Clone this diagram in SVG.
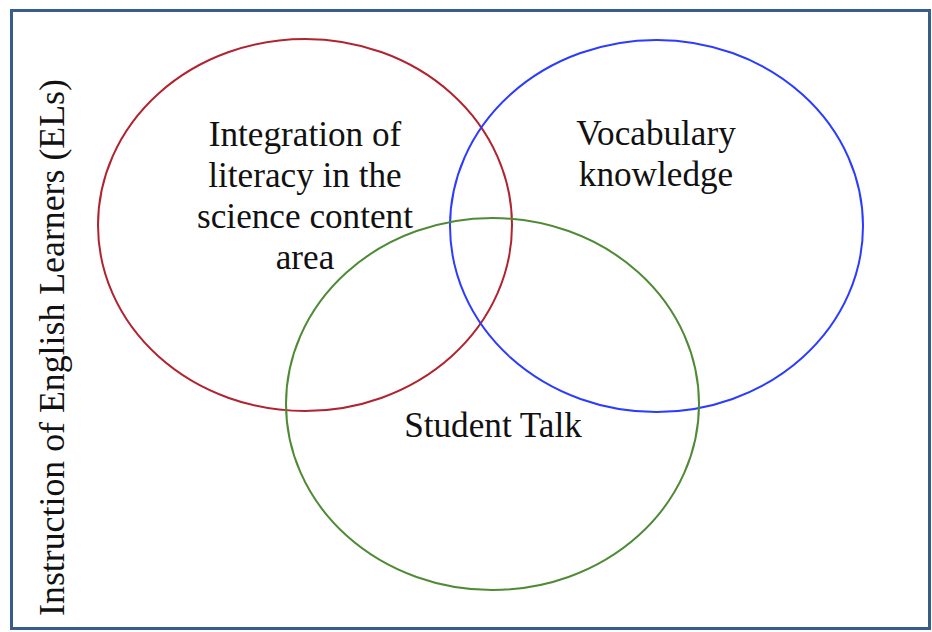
<svg xmlns="http://www.w3.org/2000/svg" width="932" height="632" viewBox="0 0 932 632">
  <style>
    .lbl { font-family: "Liberation Serif", "Times New Roman", serif; font-size: 35.2px; fill: #111111; text-anchor: middle; }
    .ring { fill: none; stroke-width: 2; }
  </style>
  <rect x="0" y="0" width="932" height="632" fill="#ffffff"/>
  <g id="frame">
    <rect x="11.5" y="10.5" width="918" height="618" fill="none" stroke="#385D8A" stroke-width="3"/>
    <text class="lbl" style="font-size:35.8px" transform="translate(64,347.5) rotate(-90)">Instruction of English Learners (ELs)</text>
  </g>
  <g id="literacy">
    <ellipse class="ring" cx="305" cy="225" rx="207" ry="186" stroke="#B0232F"/>
    <text class="lbl" x="305" y="146">Integration of</text>
    <text class="lbl" x="305" y="187">literacy in the</text>
    <text class="lbl" x="305" y="228">science content</text>
    <text class="lbl" x="305" y="269">area</text>
  </g>
  <g id="vocabulary">
    <ellipse class="ring" cx="656.5" cy="226" rx="206.5" ry="186" stroke="#2B3BFF"/>
    <text class="lbl" x="656" y="145">Vocabulary</text>
    <text class="lbl" x="656" y="186">knowledge</text>
  </g>
  <g id="talk">
    <ellipse class="ring" cx="492.5" cy="404" rx="206.5" ry="186" stroke="#4F8A35"/>
    <text class="lbl" x="493" y="437">Student Talk</text>
  </g>
  <g id="connectors"/>
</svg>
